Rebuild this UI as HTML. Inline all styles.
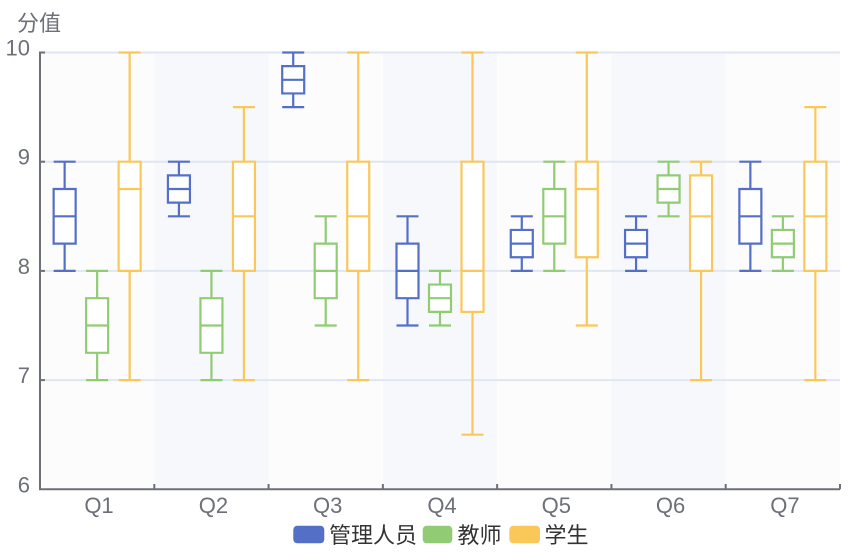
<!DOCTYPE html>
<html><head><meta charset="utf-8"><style>
html,body{margin:0;padding:0;background:#fff;}
svg{display:block;}
.lab{font-family:"Liberation Sans","Noto Sans CJK SC",sans-serif;font-size:22px;fill:#6E7079;}
.leg{font-family:"Liberation Sans","Noto Sans CJK SC",sans-serif;font-size:22px;fill:#333;}
</style></head><body>
<svg width="865" height="560" viewBox="0 0 865 560" xmlns="http://www.w3.org/2000/svg">
<rect width="865" height="560" fill="#fff"/>
<!-- bands -->
<rect x="40" y="52.5" width="114.29" height="436.8" fill="#fcfcfd"/>
<rect x="154.29" y="52.5" width="114.29" height="436.8" fill="#f6f8fc"/>
<rect x="268.57" y="52.5" width="114.29" height="436.8" fill="#fcfcfd"/>
<rect x="382.86" y="52.5" width="114.29" height="436.8" fill="#f6f8fc"/>
<rect x="497.14" y="52.5" width="114.29" height="436.8" fill="#fcfcfd"/>
<rect x="611.43" y="52.5" width="114.29" height="436.8" fill="#f6f8fc"/>
<rect x="725.71" y="52.5" width="114.29" height="436.8" fill="#fcfcfd"/>
<!-- grid -->
<g stroke="#E0E6F1" stroke-width="2">
<line x1="40" y1="52.5" x2="840" y2="52.5"/>
<line x1="40" y1="161.7" x2="840" y2="161.7"/>
<line x1="40" y1="270.9" x2="840" y2="270.9"/>
<line x1="40" y1="380.1" x2="840" y2="380.1"/>
</g>
<!-- axes -->
<g stroke="#6E7079" stroke-width="2" fill="none">
<line x1="40" y1="51.5" x2="40" y2="490"/>
<line x1="39" y1="489.3" x2="840" y2="489.3"/>
<line x1="40" y1="52.5" x2="45" y2="52.5"/>
<line x1="40" y1="161.7" x2="45" y2="161.7"/>
<line x1="40" y1="270.9" x2="45" y2="270.9"/>
<line x1="40" y1="380.1" x2="45" y2="380.1"/>
<line x1="154.29" y1="489.3" x2="154.29" y2="484"/>
<line x1="268.57" y1="489.3" x2="268.57" y2="484"/>
<line x1="382.86" y1="489.3" x2="382.86" y2="484"/>
<line x1="497.14" y1="489.3" x2="497.14" y2="484"/>
<line x1="611.43" y1="489.3" x2="611.43" y2="484"/>
<line x1="725.71" y1="489.3" x2="725.71" y2="484"/>
<line x1="840" y1="489.3" x2="840" y2="484"/>
</g>
<!-- labels -->
<text class="lab" x="17" y="31">分值</text>
<g class="lab" text-anchor="end">
<text x="30" y="55.5">10</text>
<text x="30" y="164.7">9</text>
<text x="30" y="273.9">8</text>
<text x="30" y="383.1">7</text>
<text x="30" y="492.3">6</text>
</g>
<g class="lab" text-anchor="middle">
<text x="99" y="513">Q1</text>
<text x="213.4" y="513">Q2</text>
<text x="327.7" y="513">Q3</text>
<text x="442" y="513">Q4</text>
<text x="556.3" y="513">Q5</text>
<text x="670.6" y="513">Q6</text>
<text x="784.9" y="513">Q7</text>
</g>
<!-- boxes -->
<g fill="#fff" stroke-width="2.2" stroke-linejoin="miter">
<!-- blue -->
<g stroke="#5470C6">
<path d="M53.64 161.7H75.64M64.64 161.7V189M53.64 189H75.64V243.6H53.64ZM53.64 216.3H75.64M64.64 243.6V270.9M53.64 270.9H75.64"/>
<path d="M167.93 161.7H189.93M178.93 161.7V175.35M167.93 175.35H189.93V202.65H167.93ZM167.93 189H189.93M178.93 202.65V216.3M167.93 216.3H189.93"/>
<path d="M282.21 52.5H304.21M293.21 52.5V66.15M282.21 66.15H304.21V93.45H282.21ZM282.21 79.8H304.21M293.21 93.45V107.1M282.21 107.1H304.21"/>
<path d="M396.5 216.3H418.5M407.5 216.3V243.6M396.5 243.6H418.5V298.2H396.5ZM396.5 270.9H418.5M407.5 298.2V325.5M396.5 325.5H418.5"/>
<path d="M510.79 216.3H532.79M521.79 216.3V229.95M510.79 229.95H532.79V257.25H510.79ZM510.79 243.6H532.79M521.79 257.25V270.9M510.79 270.9H532.79"/>
<path d="M625.07 216.3H647.07M636.07 216.3V229.95M625.07 229.95H647.07V257.25H625.07ZM625.07 243.6H647.07M636.07 257.25V270.9M625.07 270.9H647.07"/>
<path d="M739.36 161.7H761.36M750.36 161.7V189M739.36 189H761.36V243.6H739.36ZM739.36 216.3H761.36M750.36 243.6V270.9M739.36 270.9H761.36"/>
</g>
<!-- green -->
<g stroke="#91CC75">
<path d="M86.14 270.9H108.14M97.14 270.9V298.2M86.14 298.2H108.14V352.8H86.14ZM86.14 325.5H108.14M97.14 352.8V380.1M86.14 380.1H108.14"/>
<path d="M200.43 270.9H222.43M211.43 270.9V298.2M200.43 298.2H222.43V352.8H200.43ZM200.43 325.5H222.43M211.43 352.8V380.1M200.43 380.1H222.43"/>
<path d="M314.71 216.3H336.71M325.71 216.3V243.6M314.71 243.6H336.71V298.2H314.71ZM314.71 270.9H336.71M325.71 298.2V325.5M314.71 325.5H336.71"/>
<path d="M429 270.9H451M440 270.9V284.55M429 284.55H451V311.85H429ZM429 298.2H451M440 311.85V325.5M429 325.5H451"/>
<path d="M543.29 161.7H565.29M554.29 161.7V189M543.29 189H565.29V243.6H543.29ZM543.29 216.3H565.29M554.29 243.6V270.9M543.29 270.9H565.29"/>
<path d="M657.57 161.7H679.57M668.57 161.7V175.35M657.57 175.35H679.57V202.65H657.57ZM657.57 189H679.57M668.57 202.65V216.3M657.57 216.3H679.57"/>
<path d="M771.86 216.3H793.86M782.86 216.3V229.95M771.86 229.95H793.86V257.25H771.86ZM771.86 243.6H793.86M782.86 257.25V270.9M771.86 270.9H793.86"/>
</g>
<!-- yellow -->
<g stroke="#FAC858">
<path d="M118.64 52.5H140.64M129.64 52.5V161.7M118.64 161.7H140.64V270.9H118.64ZM118.64 189H140.64M129.64 270.9V380.1M118.64 380.1H140.64"/>
<path d="M232.93 107.1H254.93M243.93 107.1V161.7M232.93 161.7H254.93V270.9H232.93ZM232.93 216.3H254.93M243.93 270.9V380.1M232.93 380.1H254.93"/>
<path d="M347.21 52.5H369.21M358.21 52.5V161.7M347.21 161.7H369.21V270.9H347.21ZM347.21 216.3H369.21M358.21 270.9V380.1M347.21 380.1H369.21"/>
<path d="M461.5 52.5H483.5M472.5 52.5V161.7M461.5 161.7H483.5V311.85H461.5ZM461.5 270.9H483.5M472.5 311.85V434.7M461.5 434.7H483.5"/>
<path d="M575.79 52.5H597.79M586.79 52.5V161.7M575.79 161.7H597.79V257.25H575.79ZM575.79 189H597.79M586.79 257.25V325.5M575.79 325.5H597.79"/>
<path d="M690.07 161.7H712.07M701.07 161.7V175.35M690.07 175.35H712.07V270.9H690.07ZM690.07 216.3H712.07M701.07 270.9V380.1M690.07 380.1H712.07"/>
<path d="M804.36 107.1H826.36M815.36 107.1V161.7M804.36 161.7H826.36V270.9H804.36ZM804.36 216.3H826.36M815.36 270.9V380.1M804.36 380.1H826.36"/>
</g>
</g>
<!-- legend -->
<rect x="293.3" y="525.7" width="31" height="17.6" rx="4" fill="#5470C6"/>
<text class="leg" x="329" y="543">管理人员</text>
<rect x="422.7" y="525.7" width="29.6" height="17.6" rx="4" fill="#91CC75"/>
<text class="leg" x="457.5" y="543">教师</text>
<rect x="509.3" y="525.7" width="30.7" height="17.6" rx="4" fill="#FAC858"/>
<text class="leg" x="544.5" y="543">学生</text>
</svg>
</body></html>
